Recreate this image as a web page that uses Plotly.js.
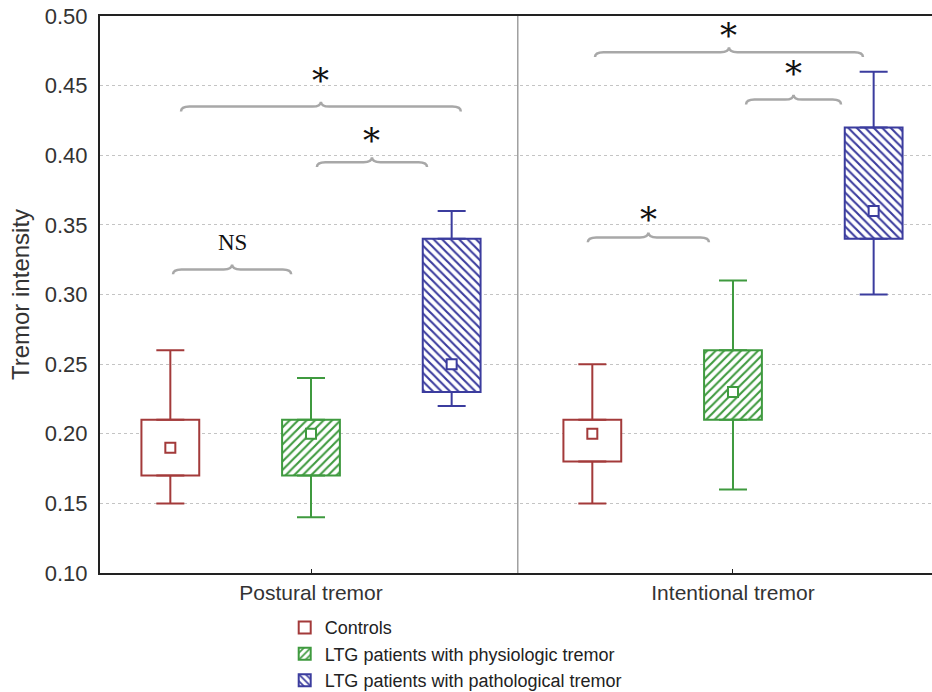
<!DOCTYPE html>
<html>
<head>
<meta charset="utf-8">
<script src="https://cdn.plot.ly/plotly-3.0.1.min.js"></script>
<style>html,body{margin:0;padding:0;background:#fff;}#chart{width:932px;height:692px;}</style>
</head>
<body>
<div id="chart"></div>
<script>
// ---- Data ----
const categories = ['Postural tremor', 'Intentional tremor'];
const seriesNames = ['Controls', 'LTG patients with physiologic tremor', 'LTG patients with pathological tremor'];

const controlsLower  = [0.15, 0.15];
const controlsQ1     = [0.17, 0.18];
const controlsMid    = [0.19, 0.20];
const controlsQ3     = [0.21, 0.21];
const controlsUpper  = [0.26, 0.25];

const physioLower = [0.14, 0.16];
const physioQ1    = [0.17, 0.21];
const physioMid   = [0.20, 0.23];
const physioQ3    = [0.21, 0.26];
const physioUpper = [0.24, 0.31];

const pathoLower = [0.22, 0.30];
const pathoQ1    = [0.23, 0.34];
const pathoMid   = [0.25, 0.36];
const pathoQ3    = [0.34, 0.42];
const pathoUpper = [0.36, 0.46];

const yTickVals = [0.10, 0.15, 0.20, 0.25, 0.30, 0.35, 0.40, 0.45, 0.50];
const yTickText = ['0.10', '0.15', '0.20', '0.25', '0.30', '0.35', '0.40', '0.45', '0.50'];

// significance braces (x from, x to, y level, label, label y)
const braceFrom  = [-0.327, -0.308, 0.014, 0.656, 0.673, 1.031];
const braceTo    = [-0.047,  0.355, 0.275, 0.943, 1.308, 1.256];
const braceY     = [ 0.318,  0.435, 0.395, 0.341, 0.474, 0.440];
const braceLabel = ['NS', '*', '*', '*', '*', '*'];
const labelY     = [ 0.337,  0.457, 0.414, 0.357, 0.489, 0.462];

// ---- Styles ----
const lineColors = ['#a33a3a', '#3f9a3f', '#3b3c9e'];
const patterns = ['', '/', '\\'];
const series = [
  {lower: controlsLower, q1: controlsQ1, mid: controlsMid, q3: controlsQ3, upper: controlsUpper},
  {lower: physioLower, q1: physioQ1, mid: physioMid, q3: physioQ3, upper: physioUpper},
  {lower: pathoLower, q1: pathoQ1, mid: pathoMid, q3: pathoQ3, upper: pathoUpper}
];
const slot = 1 / 3;
const posOf = (c, s) => c + (s - 1) * slot;

const traces = [];
series.forEach((d, s) => {
  const xs = categories.map((_, c) => posOf(c, s));
  traces.push({
    type: 'bar', name: seriesNames[s], x: xs,
    base: d.q1, y: d.q3.map((v, i) => v - d.q1[i]),
    width: 0.137,
    marker: {
      color: '#ffffff',
      line: {color: lineColors[s], width: 2},
      pattern: {shape: patterns[s], fgcolor: lineColors[s], bgcolor: '#ffffff', size: 6, solidity: 0.35}
    },
    hoverinfo: 'skip'
  });
});
series.forEach((d, s) => {
  const xs = categories.map((_, c) => posOf(c, s));
  traces.push({
    type: 'scatter', mode: 'markers', x: xs, y: d.q3, showlegend: false, hoverinfo: 'skip',
    marker: {size: 1, opacity: 0},
    error_y: {type: 'data', symmetric: false, array: d.upper.map((v, i) => v - d.q3[i]),
      arrayminus: d.q3.map(() => 0), width: 14, thickness: 2, color: lineColors[s]}
  });
  traces.push({
    type: 'scatter', mode: 'markers', x: xs, y: d.q1, showlegend: false, hoverinfo: 'skip',
    marker: {size: 1, opacity: 0},
    error_y: {type: 'data', symmetric: false, array: d.q1.map(() => 0),
      arrayminus: d.q1.map((v, i) => v - d.lower[i]), width: 14, thickness: 2, color: lineColors[s]}
  });
  traces.push({
    type: 'scatter', mode: 'markers', x: xs, y: d.mid, showlegend: false, hoverinfo: 'skip',
    marker: {symbol: 'square', size: 10, color: '#ffffff', line: {color: lineColors[s], width: 2}}
  });
});

const shapes = [{
  type: 'line', xref: 'x', yref: 'paper', x0: 0.49, x1: 0.49, y0: 0, y1: 1,
  line: {color: '#a0a0a0', width: 1.5}, layer: 'above'
}];
const annotations = [];
const h = 0.0035, e = 0.02;
braceFrom.forEach((x0, i) => {
  const x1 = braceTo[i], y = braceY[i], label = braceLabel[i];
  const xm = (x0 + x1) / 2;
  const path = `M ${x0},${y - h} Q ${x0},${y} ${x0 + e},${y} L ${xm - e},${y} Q ${xm},${y} ${xm},${y + h} ` +
               `Q ${xm},${y} ${xm + e},${y} L ${x1 - e},${y} Q ${x1},${y} ${x1},${y - h}`;
  shapes.push({type: 'path', xref: 'x', yref: 'y', path: path, line: {color: '#a8a8a8', width: 2.5}, layer: 'above'});
  annotations.push({
    xref: 'x', yref: 'y', x: xm, y: labelY[i], text: label, showarrow: false,
    yanchor: 'middle', yshift: label === '*' ? -4 : 0,
    font: {family: label === '*' ? 'DejaVu Serif' : 'Liberation Serif', size: label === '*' ? 34 : 23, color: '#111'}
  });
});

const layout = {
  width: 932, height: 692,
  margin: {l: 100, r: 0, t: 16, b: 119, autoexpand: false},
  paper_bgcolor: '#ffffff', plot_bgcolor: '#ffffff',
  font: {family: 'Liberation Sans, Arial, sans-serif', color: '#333'},
  showlegend: true,
  barmode: 'overlay',
  xaxis: {
    range: [-0.5, 1.4716], tickvals: [0, 1], ticktext: categories,
    showgrid: false, zeroline: false, showline: true, mirror: true, linecolor: '#222', linewidth: 2,
    ticks: 'inside', ticklen: 4, tickcolor: '#222',
    tickfont: {size: 21, color: '#333'}
  },
  yaxis: {
    range: [0.1, 0.5], tickvals: yTickVals, ticktext: yTickText,
    showgrid: true, gridcolor: '#c4c4c4', griddash: 'dot', gridwidth: 1,
    zeroline: false, showline: true, linecolor: '#222', linewidth: 2,
    ticks: '', ticklabelstandoff: 6,
    tickfont: {size: 22, color: '#333'},
    title: {text: 'Tremor intensity', font: {size: 24, color: '#333'}, standoff: 8}
  },
  legend: {
    x: 0.222, xanchor: 'left', y: -0.065, yanchor: 'top',
    font: {size: 18, color: '#222'}, bgcolor: 'rgba(0,0,0,0)', tracegroupgap: 0
  },
  shapes: shapes,
  annotations: annotations
};

Plotly.newPlot('chart', traces, layout, {staticPlot: true});
</script>
</body>
</html>
